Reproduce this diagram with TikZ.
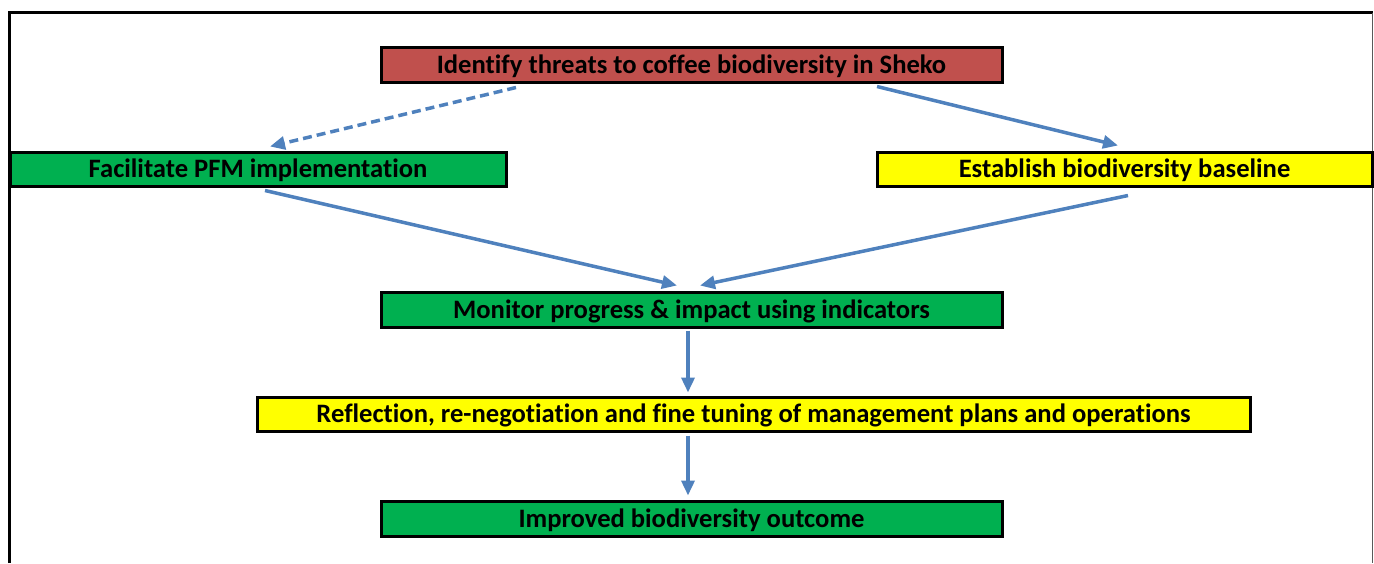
\documentclass[tikz,border=0pt]{standalone}
\usepackage{fontspec}
\setmainfont{Carlito}[Ligatures={NoCommon}]
\usetikzlibrary{arrows.meta}
\definecolor{threatred}{HTML}{C0504D}
\definecolor{actgreen}{HTML}{00B050}
\definecolor{actyellow}{HTML}{FFFF00}
\definecolor{flowblue}{HTML}{4F81BD}
\begin{document}
\begin{tikzpicture}[
    x=1pt, y=-1pt,
    stage/.style={draw, line width=3pt, inner sep=0pt, text height=17pt, text depth=0pt, font=\fontsize{26.6}{30}\selectfont\bfseries},
    flow/.style={flowblue, line width=3.5pt, -{Triangle[length=15pt,width=13pt]}}
]
\useasboundingbox (0,0) rectangle (1374,563);

% Define frame
\draw[line width=3pt] (9.5,563) -- (9.5,12.5) -- (1372.5,12.5);
\draw[line width=1pt, gray!70!black] (1372.5,12.5) -- (1372.5,563);

% Define stages
\node[stage, fill=threatred, minimum width=621pt, minimum height=35pt] (ident) at (691.5, 64.5) {Identify threats to coffee biodiversity in Sheko};
\node[stage, fill=actgreen, minimum width=496pt, minimum height=34pt] (facil) at (258, 169) {Facilitate PFM implementation};
\node[stage, fill=actyellow, minimum width=495pt, minimum height=34pt] (estab) at (1124.5, 169) {Establish biodiversity baseline};
\node[stage, fill=actgreen, minimum width=621pt, minimum height=35pt] (monit) at (691.5, 309.5) {Monitor progress \& impact using indicators};
\node[stage, fill=actyellow, minimum width=993pt, minimum height=34pt] (refl) at (753.5, 414) {Reflection, re-negotiation and fine tuning of management plans and operations};
\node[stage, fill=actgreen, minimum width=621pt, minimum height=35pt] (impr) at (691.5, 518.5) {Improved biodiversity outcome};

% Define flows
\draw[flow, dash pattern=on 9pt off 5pt] ([xshift=-175.5pt,yshift=-4pt]ident.south) -- ([xshift=12pt,yshift=4pt]facil.north);
\draw[flow] ([xshift=185.5pt,yshift=-3pt]ident.south) -- ([xshift=-6.5pt,yshift=5pt]estab.north);
\draw[flow] ([xshift=7pt,yshift=-3pt]facil.south) -- ([xshift=-14.5pt,yshift=5pt]monit.north);
\draw[flow] ([xshift=3.5pt,yshift=-8pt]estab.south) -- ([xshift=8.5pt,yshift=5pt]monit.north);
\draw[flow] ([xshift=-3.5pt,yshift=-2pt]monit.south) -- ([xshift=-3.5pt,yshift=3pt]monit.south |- refl.north);
\draw[flow] ([xshift=-3.5pt,yshift=-3pt]refl.south -| monit.south) -- ([xshift=-3.5pt,yshift=4pt]impr.north);

\end{tikzpicture}
\end{document}
